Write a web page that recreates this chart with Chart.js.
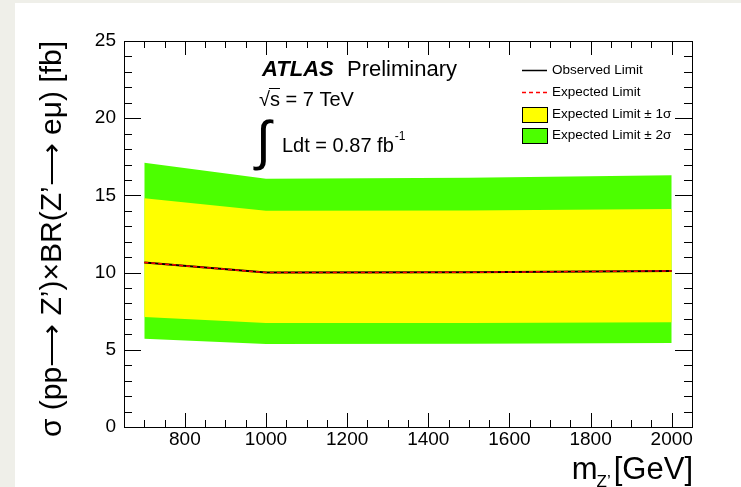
<!DOCTYPE html>
<html>
<head>
<meta charset="utf-8">
<script src="https://cdn.jsdelivr.net/npm/chart.js@4/dist/chart.umd.min.js"></script>
<style>
  html, body { margin: 0; padding: 0; background: #efefe9; }
  #wrap { position: relative; width: 741px; height: 487px; }
  canvas { display: block; }
</style>
</head>
<body>
<div id="wrap"><canvas id="c" width="741" height="487"></canvas></div>
<script>
// Z' -> e mu cross-section limits (fb) vs Z' mass (GeV)
const massPoints   = [700, 1000, 1500, 2000];
const observed     = [10.66, 10.0, 10.02, 10.11];
const expected     = [10.66, 10.0, 10.02, 10.11];
const plus2Sigma   = [17.12, 16.08, 16.15, 16.3];
const plus1Sigma   = [14.82, 14.0, 14.02, 14.12];
const minus1Sigma  = [7.12, 6.73, 6.74, 6.79];
const minus2Sigma  = [5.71, 5.38, 5.39, 5.44];
const xTickLabels  = [800, 1000, 1200, 1400, 1600, 1800, 2000];
const yTickLabels  = [0, 5, 10, 15, 20, 25];
const legendLabels = ['Observed Limit', 'Expected Limit', 'Expected Limit \u00b1 1\u03c3', 'Expected Limit \u00b1 2\u03c3'];

const FONT = '"Liberation Sans", Arial, Helvetica, sans-serif';
const YELLOW = '#ffff00';
const GREEN = '#4cff00';

const pts = arr => massPoints.map((m, i) => ({ x: m, y: arr[i] }));

// Page background, frame, inward ticks, legend and text annotations
const decorations = {
  id: 'decorations',
  beforeDraw(chart) {
    const ctx = chart.ctx;
    ctx.save();
    ctx.fillStyle = '#efefe9';
    ctx.fillRect(0, 0, chart.width, chart.height);
    ctx.fillStyle = '#ffffff';
    ctx.fillRect(15, 3, chart.width - 15, chart.height - 3);
    ctx.restore();
  },
  afterDraw(chart) {
    const ctx = chart.ctx;
    const a = chart.chartArea;
    const xs = chart.scales.x, ys = chart.scales.y;
    ctx.save();
    ctx.strokeStyle = '#000';
    ctx.lineWidth = 1;
    // frame
    ctx.strokeRect(Math.round(a.left) + 0.5, Math.round(a.top) + 0.5,
                   Math.round(a.right - a.left), Math.round(a.bottom - a.top));
    ctx.beginPath();
    // y ticks (left and right, inward)
    for (let v = 1; v < 25; v++) {
      const y = Math.round(ys.getPixelForValue(v)) + 0.5;
      const len = v % 5 === 0 ? 17 : 8;
      ctx.moveTo(a.left, y); ctx.lineTo(a.left + len, y);
      ctx.moveTo(a.right, y); ctx.lineTo(a.right - len, y);
    }
    // x ticks (bottom and top, inward)
    for (let v = 700; v < 2050; v += 50) {
      const x = Math.round(xs.getPixelForValue(v)) + 0.5;
      const len = v % 200 === 0 ? 14 : 7;
      ctx.moveTo(x, a.bottom); ctx.lineTo(x, a.bottom - len);
      ctx.moveTo(x, a.top); ctx.lineTo(x, a.top + len);
    }
    ctx.stroke();

    // x axis title: m_{Z'} [GeV]
    ctx.fillStyle = '#000';
    ctx.textBaseline = 'alphabetic';
    ctx.textAlign = 'right';
    ctx.font = '31px ' + FONT;
    const xr = a.right + 1;
    ctx.fillText('[GeV]', xr, 479);
    const gw = ctx.measureText('[GeV]').width;
    ctx.font = '17px ' + FONT;
    ctx.fillText('Z\u2019', xr - gw - 3, 487);
    const zw = ctx.measureText('Z\u2019').width;
    ctx.font = '31px ' + FONT;
    ctx.fillText('m', xr - gw - 3 - zw + 1, 479);

    // ATLAS Preliminary
    ctx.textAlign = 'left';
    ctx.font = 'italic bold 22px ' + FONT;
    ctx.fillText('ATLAS', 262, 76);
    ctx.font = '22px ' + FONT;
    ctx.fillText('Preliminary', 347, 76);

    // sqrt(s) = 7 TeV
    ctx.font = '20px ' + FONT;
    ctx.fillText('\u221a', 259, 106);
    const rw = ctx.measureText('\u221a').width;
    ctx.fillText('s = 7 TeV', 259 + rw, 106);
    const sw = ctx.measureText('s').width;
    ctx.beginPath();
    ctx.moveTo(259 + rw - 1, 88.5); ctx.lineTo(259 + rw + sw, 88.5);
    ctx.stroke();

    // integrated luminosity
    ctx.font = '54px ' + FONT;
    ctx.fillText('\u222b', 256, 159);
    ctx.font = '20px ' + FONT;
    ctx.fillText('Ldt = 0.87 fb', 282, 152);
    const lw = ctx.measureText('Ldt = 0.87 fb').width;
    ctx.font = '12px ' + FONT;
    ctx.fillText('-1', 282 + lw + 1, 140);

    // legend
    const lx = 522, tx = 552;
    ctx.font = '13.5px ' + FONT;
    ctx.textBaseline = 'middle';
    ctx.strokeStyle = '#000';
    ctx.lineWidth = 1.5;
    ctx.beginPath(); ctx.moveTo(lx, 70.5); ctx.lineTo(lx + 25, 70.5); ctx.stroke();
    ctx.fillText(legendLabels[0], tx, 70);
    ctx.strokeStyle = '#ff0000';
    ctx.setLineDash([4, 3]);
    ctx.beginPath(); ctx.moveTo(lx, 92.5); ctx.lineTo(lx + 25, 92.5); ctx.stroke();
    ctx.setLineDash([]);
    ctx.fillText(legendLabels[1], tx, 92);
    ctx.lineWidth = 1;
    ctx.strokeStyle = '#000';
    ctx.fillStyle = YELLOW;
    ctx.fillRect(lx, 107, 25, 15);
    ctx.strokeRect(lx + 0.5, 107.5, 25, 15);
    ctx.fillStyle = GREEN;
    ctx.fillRect(lx, 128, 25, 15);
    ctx.strokeRect(lx + 0.5, 128.5, 25, 15);
    ctx.fillStyle = '#000';
    ctx.fillText(legendLabels[2], tx, 114);
    ctx.fillText(legendLabels[3], tx, 135);
    ctx.restore();
  }
};

new Chart(document.getElementById('c'), {
  type: 'line',
  data: {
    datasets: [
      { label: legendLabels[1], data: pts(expected), borderColor: '#ff0000', borderWidth: 1.5,
        borderDash: [4, 3], pointRadius: 0, fill: false, tension: 0 },
      { label: legendLabels[0], data: pts(observed), borderColor: '#000000', borderWidth: 2,
        pointRadius: 0, fill: false, tension: 0 },
      { label: legendLabels[2], data: pts(plus1Sigma), borderWidth: 0, pointRadius: 0,
        backgroundColor: YELLOW, fill: '+1', tension: 0 },
      { label: '-1sigma', data: pts(minus1Sigma), borderWidth: 0, pointRadius: 0, fill: false, tension: 0 },
      { label: legendLabels[3], data: pts(plus2Sigma), borderWidth: 0, pointRadius: 0,
        backgroundColor: GREEN, fill: '+1', tension: 0 },
      { label: '-2sigma', data: pts(minus2Sigma), borderWidth: 0, pointRadius: 0, fill: false, tension: 0 }
    ]
  },
  options: {
    responsive: false,
    animation: false,
    events: [],
    layout: { padding: { left: 0, top: 41, right: 49, bottom: 0 } },
    plugins: { legend: { display: false }, tooltip: { enabled: false } },
    scales: {
      x: {
        type: 'linear', min: 650, max: 2050,
        grid: { display: false, drawTicks: false },
        border: { display: false },
        afterBuildTicks: s => { s.ticks = xTickLabels.map(v => ({ value: v })); },
        ticks: { autoSkip: false, maxRotation: 0, padding: 1, color: '#000',
                 callback: v => String(v),
                 font: { family: FONT, size: 19 } },
        afterFit: s => { s.height = 60; }
      },
      y: {
        type: 'linear', min: 0, max: 25,
        grid: { display: false, drawTicks: false },
        border: { display: false },
        afterBuildTicks: s => { s.ticks = yTickLabels.map(v => ({ value: v })); },
        ticks: { padding: 8, color: '#000', callback: v => String(v),
                 font: { family: FONT, size: 19 } },
        title: { display: true, align: 'end', color: '#000',
                 text: '\u03c3 (pp\u27f6 Z\u2019)\u00d7BR(Z\u2019\u27f6 e\u03bc) [fb]',
                 font: { family: FONT, size: 30 }, padding: { top: 35, bottom: 0 } },
        afterFit: s => { s.width = 124; }
      }
    }
  },
  plugins: [decorations]
});
</script>
</body>
</html>
